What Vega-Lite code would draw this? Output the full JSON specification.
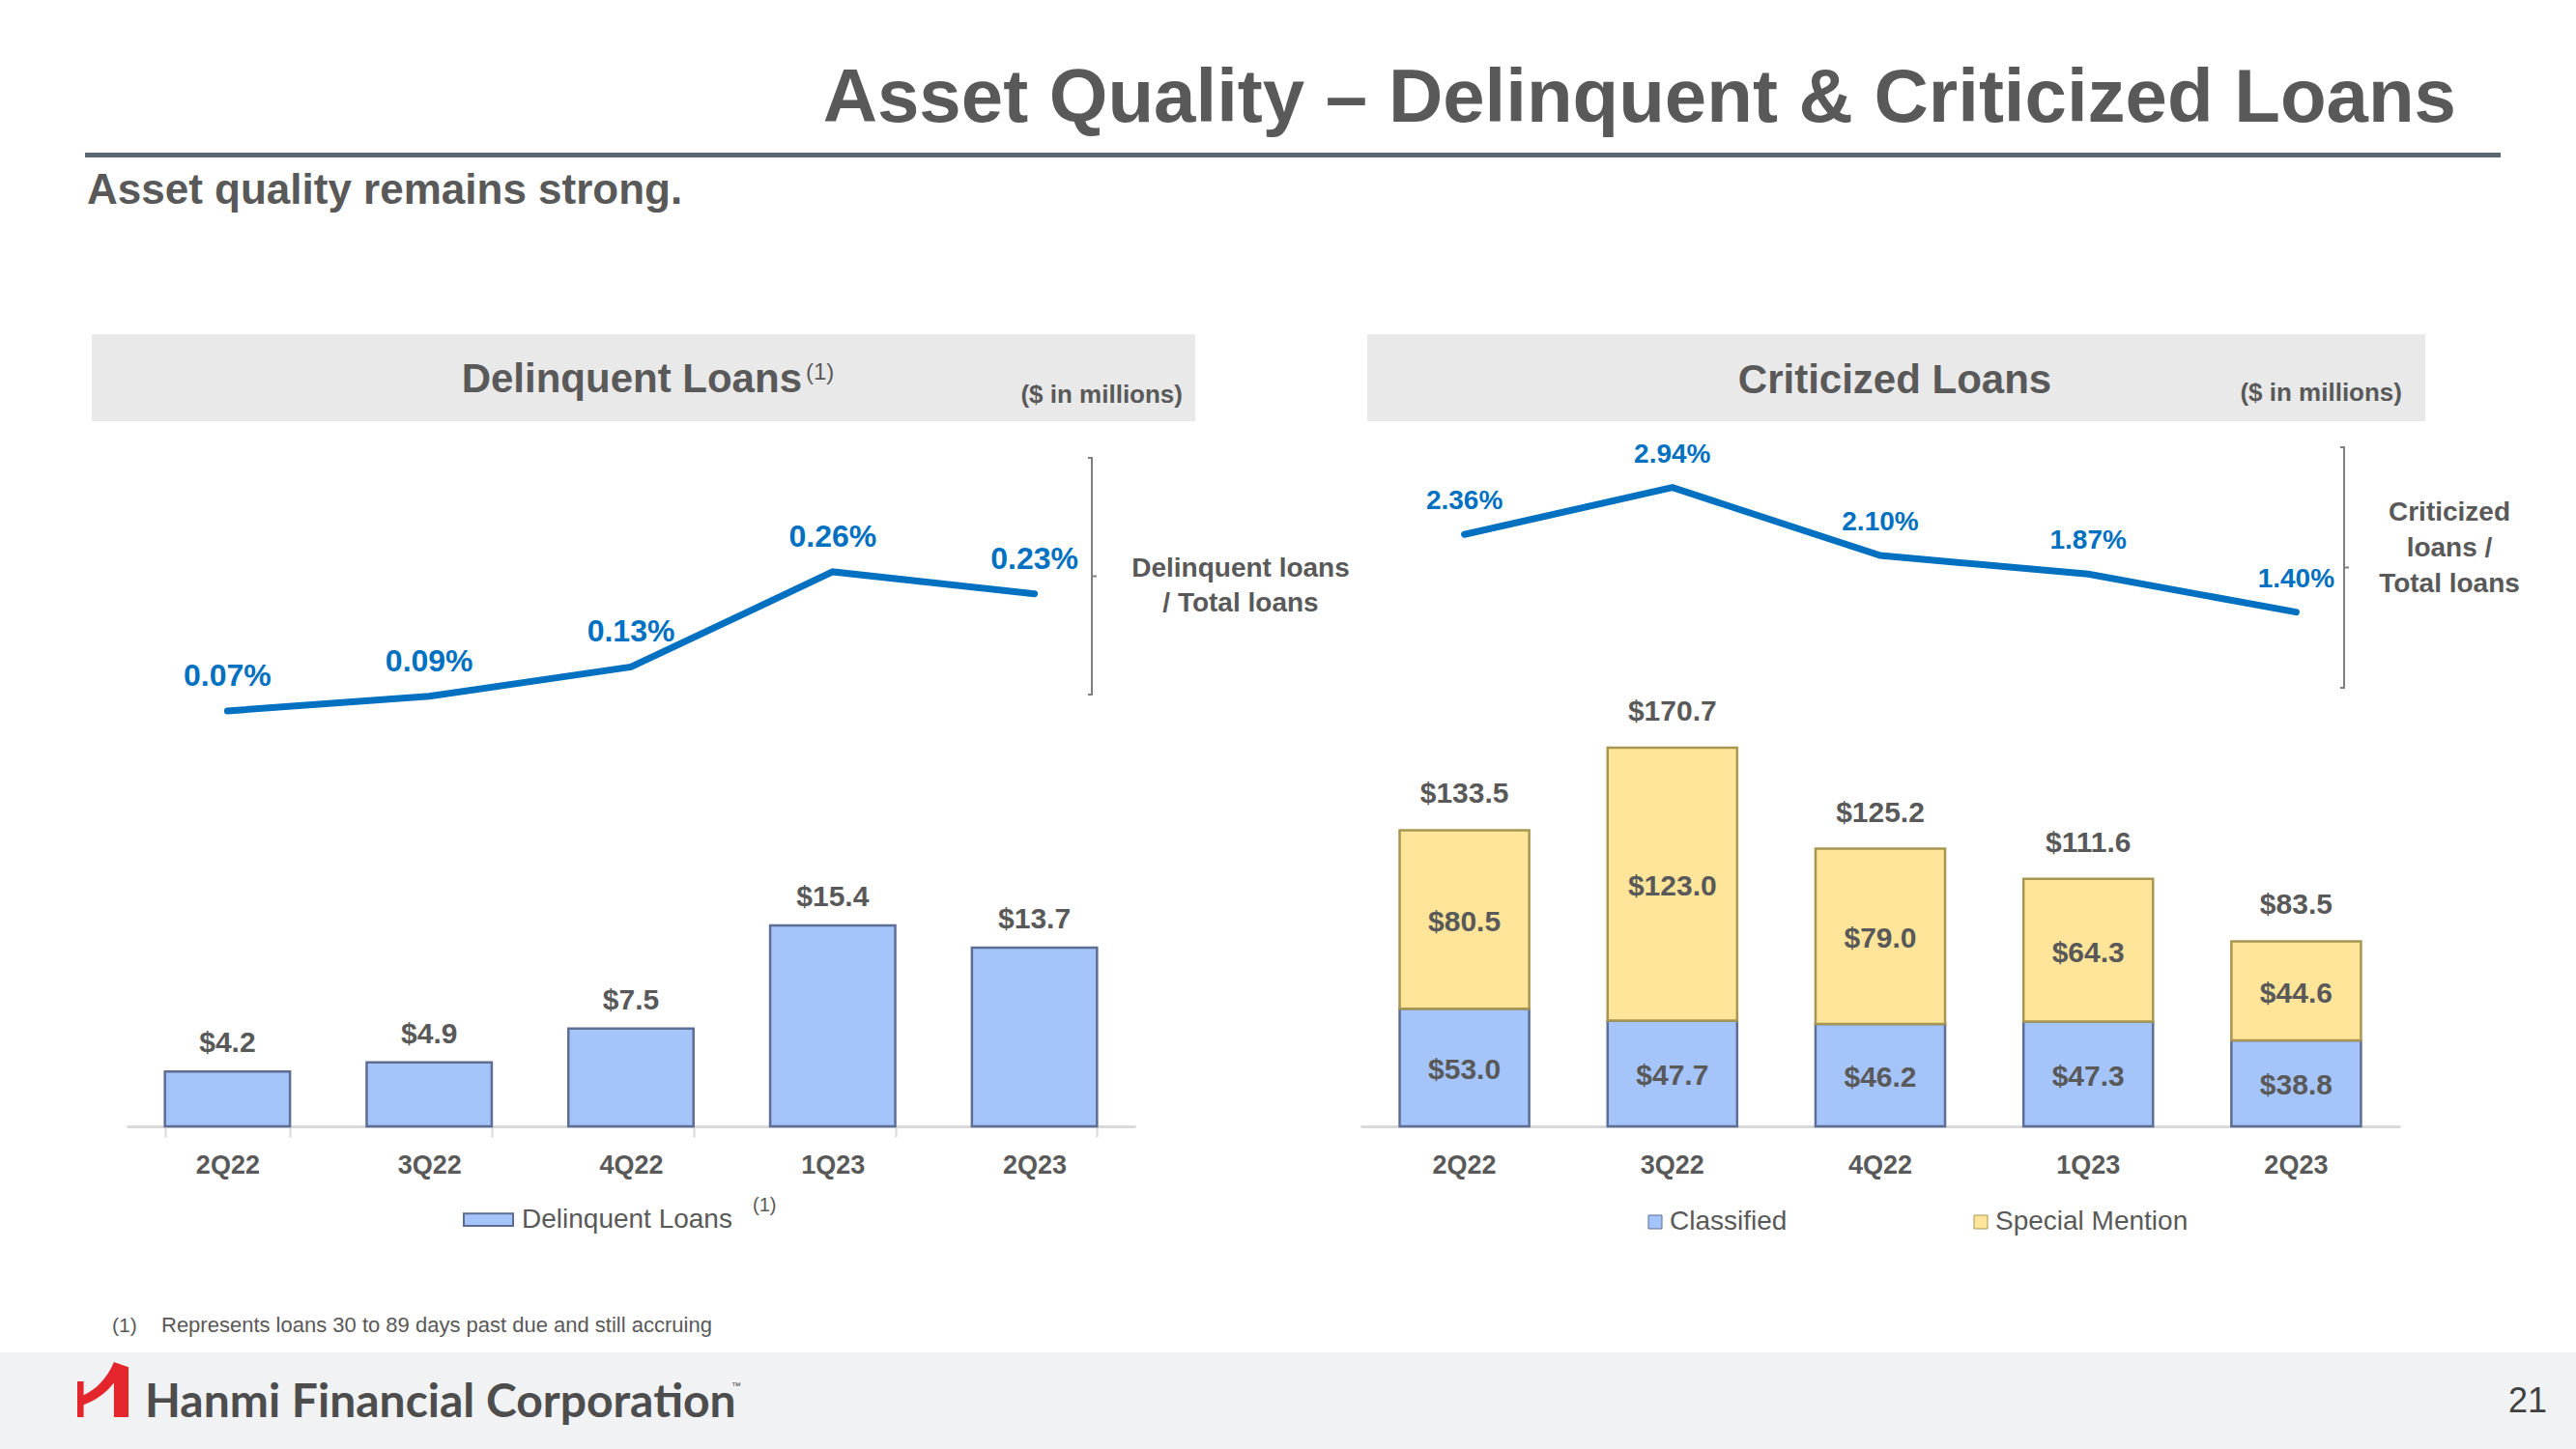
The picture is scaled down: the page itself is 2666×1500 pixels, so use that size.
{
  "$schema": "https://vega.github.io/schema/vega-lite/v6.json",
  "width": 2666,
  "height": 1500,
  "autosize": {"type": "none"},
  "padding": 0,
  "background": "#ffffff",
  "config": {"view": {"stroke": null}, "font": "Liberation Sans"},
  "datasets": {
    "delinquent": [
      {"q": "2Q22", "amount": 4.2, "pct": 0.0007},
      {"q": "3Q22", "amount": 4.9, "pct": 0.0009},
      {"q": "4Q22", "amount": 7.5, "pct": 0.0013},
      {"q": "1Q23", "amount": 15.4, "pct": 0.0026},
      {"q": "2Q23", "amount": 13.7, "pct": 0.0023}
    ],
    "criticized": [
      {"q": "2Q22", "type": "Classified", "v": 53.0},
      {"q": "2Q22", "type": "Special Mention", "v": 80.5},
      {"q": "3Q22", "type": "Classified", "v": 47.7},
      {"q": "3Q22", "type": "Special Mention", "v": 123.0},
      {"q": "4Q22", "type": "Classified", "v": 46.2},
      {"q": "4Q22", "type": "Special Mention", "v": 79.0},
      {"q": "1Q23", "type": "Classified", "v": 47.3},
      {"q": "1Q23", "type": "Special Mention", "v": 64.3},
      {"q": "2Q23", "type": "Classified", "v": 38.8},
      {"q": "2Q23", "type": "Special Mention", "v": 44.6}
    ],
    "critTotals": [
      {"q": "2Q22", "total": 133.5, "pct": 0.0236},
      {"q": "3Q22", "total": 170.7, "pct": 0.0294},
      {"q": "4Q22", "total": 125.2, "pct": 0.0210},
      {"q": "1Q23", "total": 111.6, "pct": 0.0187},
      {"q": "2Q23", "total": 83.5, "pct": 0.0140}
    ]
  },
  "layer": [
    {"data": {"values": [{}]}, "mark": {"type": "rect", "x": 0, "x2": 2666, "y": 1400, "y2": 1500, "color": "#f1f2f4"}},
    {"data": {"values": [{}]}, "mark": {"type": "rect", "x": 95, "x2": 1237, "y": 346, "y2": 436, "color": "#e9e9e9"}},
    {"data": {"values": [{}]}, "mark": {"type": "rect", "x": 1415, "x2": 2510, "y": 346, "y2": 436, "color": "#e9e9e9"}},
    {"data": {"values": [{}]}, "mark": {"type": "rect", "x": 88, "x2": 2588, "y": 158, "y2": 163, "color": "#5b6770"}},
    {"data": {"values": [{}]}, "mark": {"type": "text", "text": "Asset Quality – Delinquent & Criticized Loans", "x": 2542, "y": 126, "align": "right", "baseline": "alphabetic", "fontSize": 78, "fontWeight": "bold", "color": "#595959"}},
    {"data": {"values": [{}]}, "mark": {"type": "text", "text": "Asset quality remains strong.", "x": 90, "y": 211, "align": "left", "baseline": "alphabetic", "fontSize": 44, "fontWeight": "bold", "color": "#595959"}},
    {"data": {"values": [{}]}, "mark": {"type": "text", "text": "Delinquent Loans", "x": 830, "y": 406, "align": "right", "baseline": "alphabetic", "fontSize": 42, "fontWeight": "bold", "color": "#595959"}},
    {"data": {"values": [{}]}, "mark": {"type": "text", "text": "(1)", "x": 834, "y": 393, "align": "left", "baseline": "alphabetic", "fontSize": 24, "color": "#595959"}},
    {"data": {"values": [{}]}, "mark": {"type": "text", "text": "($ in millions)", "x": 1224, "y": 417, "align": "right", "baseline": "alphabetic", "fontSize": 26, "fontWeight": "bold", "color": "#595959"}},
    {"data": {"values": [{}]}, "mark": {"type": "text", "text": "Criticized Loans", "x": 1961, "y": 407, "align": "center", "baseline": "alphabetic", "fontSize": 42, "fontWeight": "bold", "color": "#595959"}},
    {"data": {"values": [{}]}, "mark": {"type": "text", "text": "($ in millions)", "x": 2486, "y": 415, "align": "right", "baseline": "alphabetic", "fontSize": 26, "fontWeight": "bold", "color": "#595959"}},
    {"data": {"values": [{}]}, "mark": {"type": "point", "shape": "M-0.033,-1L0,-1L0,1L-0.033,1M0,0L0.04,0", "x": 1130, "y": 596.5, "size": 60025, "filled": false, "color": "#7f7f7f", "strokeWidth": 2, "opacity": 1}},
    {"data": {"values": [{}]}, "mark": {"type": "point", "shape": "M-0.033,-1L0,-1L0,1L-0.033,1M0,0L0.04,0", "x": 2426, "y": 587.5, "size": 62001, "filled": false, "color": "#7f7f7f", "strokeWidth": 2, "opacity": 1}},
    {"data": {"values": [{}]}, "mark": {"type": "text", "text": ["Delinquent loans", "/ Total loans"], "x": 1284, "y": 597, "align": "center", "baseline": "alphabetic", "lineHeight": 36, "fontSize": 28, "fontWeight": "bold", "color": "#595959"}},
    {"data": {"values": [{}]}, "mark": {"type": "text", "text": ["Criticized", "loans /", "Total loans"], "x": 2535, "y": 539, "align": "center", "baseline": "alphabetic", "lineHeight": 37, "fontSize": 28, "fontWeight": "bold", "color": "#595959"}},
    {"data": {"values": [{}]}, "mark": {"type": "text", "text": "(1)", "x": 779, "y": 1254, "align": "left", "baseline": "alphabetic", "fontSize": 20, "color": "#595959"}},
    {"data": {"values": [{}]}, "mark": {"type": "text", "text": "(1)", "x": 116, "y": 1379, "align": "left", "baseline": "alphabetic", "fontSize": 21, "color": "#595959"}},
    {"data": {"values": [{}]}, "mark": {"type": "text", "text": "Represents loans 30 to 89 days past due and still accruing", "x": 167, "y": 1379, "align": "left", "baseline": "alphabetic", "fontSize": 22, "color": "#595959"}},
    {"data": {"values": [{}]}, "mark": {"type": "point", "shape": "M-0.93,-0.3L-0.7,-0.3L-0.7,1L-0.93,1Z M0.4,-1L0.93,-0.82L0.93,1L0.4,1Z M-0.7,0.2C-0.25,0 0.15,-0.4 0.4,-1L0.4,-0.25C0.1,0.15 -0.3,0.4 -0.7,0.55Z", "x": 106.5, "y": 1438.5, "size": 3249, "filled": true, "color": "#e4262c", "strokeWidth": 0, "opacity": 1}},
    {"data": {"values": [{}]}, "mark": {"type": "text", "text": "Hanmi Financial Corporation", "x": 150, "y": 1467, "align": "left", "baseline": "alphabetic", "font": "Lato", "fontSize": 48, "fontWeight": "bold", "color": "#4d4d4d"}},
    {"data": {"values": [{}]}, "mark": {"type": "text", "text": "™", "x": 757, "y": 1438, "align": "left", "baseline": "alphabetic", "fontSize": 10, "color": "#4a4a4a"}},
    {"data": {"values": [{}]}, "mark": {"type": "text", "text": "21", "x": 2616, "y": 1462, "align": "center", "baseline": "alphabetic", "fontSize": 36, "color": "#404040"}},

    {
      "data": {"name": "delinquent"},
      "mark": {"type": "bar", "stroke": "#5d6d93", "strokeWidth": 2.5},
      "encoding": {
        "x": {"field": "q", "type": "ordinal", "sort": null,
              "scale": {"type": "band", "domain": ["2Q22", "3Q22", "4Q22", "1Q23", "2Q23"], "range": [131, 1175], "paddingInner": 0.38, "paddingOuter": 0.19},
              "axis": {"orient": "bottom", "offset": -334, "title": null, "labelAngle": 0, "grid": false, "domainColor": "#d9d9d9", "domainWidth": 3, "ticks": true, "tickColor": "#d9d9d9", "tickWidth": 2, "tickSize": 11, "tickBand": "extent", "labelFontSize": 27, "labelFontWeight": "bold", "labelColor": "#595959", "labelPadding": 16}},
        "y": {"field": "amount", "type": "quantitative", "scale": {"domain": [0, 20], "range": [1166, 896], "nice": false}, "axis": null},
        "color": {"datum": "Delinquent Loans", "scale": {"range": ["#a4c4fa"]},
                  "legend": {"orient": "none", "legendX": 479, "legendY": 1236, "title": null, "symbolType": "M-1,-0.25L1,-0.25L1,0.25L-1,0.25Z", "symbolSize": 2601, "symbolStrokeColor": "#5d6d93", "symbolStrokeWidth": 2, "labelFontSize": 28, "labelColor": "#595959", "labelOffset": 8, "labelLimit": 600, "padding": 0}}
      }
    },
    {
      "data": {"name": "delinquent"},
      "mark": {"type": "text", "baseline": "alphabetic", "dy": -20, "fontSize": 30, "fontWeight": "bold", "color": "#595959"},
      "encoding": {
        "x": {"field": "q", "type": "ordinal", "sort": null, "scale": {"type": "band", "domain": ["2Q22", "3Q22", "4Q22", "1Q23", "2Q23"], "range": [131, 1175], "paddingInner": 0.38, "paddingOuter": 0.19}, "axis": null},
        "y": {"field": "amount", "type": "quantitative", "scale": {"domain": [0, 20], "range": [1166, 896], "nice": false}, "axis": null},
        "text": {"field": "amount", "type": "quantitative", "format": "$.1f"}
      }
    },
    {
      "data": {"name": "delinquent"},
      "mark": {"type": "line", "color": "#0070c0", "strokeWidth": 7, "strokeCap": "round"},
      "encoding": {
        "x": {"field": "q", "type": "ordinal", "sort": null, "scale": {"type": "band", "domain": ["2Q22", "3Q22", "4Q22", "1Q23", "2Q23"], "range": [131, 1175], "paddingInner": 0.38, "paddingOuter": 0.19}, "axis": null},
        "y": {"field": "pct", "type": "quantitative", "scale": {"domain": [0, 0.003], "range": [789, 561.6], "nice": false}, "axis": null}
      }
    },
    {
      "data": {"name": "delinquent"},
      "mark": {"type": "text", "baseline": "alphabetic", "dy": -26, "fontSize": 32, "fontWeight": "bold", "color": "#0070c0"},
      "encoding": {
        "x": {"field": "q", "type": "ordinal", "sort": null, "scale": {"type": "band", "domain": ["2Q22", "3Q22", "4Q22", "1Q23", "2Q23"], "range": [131, 1175], "paddingInner": 0.38, "paddingOuter": 0.19}, "axis": null},
        "y": {"field": "pct", "type": "quantitative", "scale": {"domain": [0, 0.003], "range": [789, 561.6], "nice": false}, "axis": null},
        "text": {"field": "pct", "type": "quantitative", "format": ".2%"}
      }
    },

    {
      "data": {"name": "criticized"},
      "transform": [{"stack": "v", "groupby": ["q"], "sort": [{"field": "type", "order": "ascending"}], "as": ["v0", "v1"]}],
      "mark": {"type": "bar", "strokeWidth": 2.5},
      "encoding": {
        "x": {"field": "q", "type": "ordinal", "sort": null,
              "scale": {"type": "band", "domain": ["2Q22", "3Q22", "4Q22", "1Q23", "2Q23"], "range": [1408, 2484], "paddingInner": 0.377, "paddingOuter": 0.1885},
              "axis": {"orient": "bottom", "offset": -334, "title": null, "labelAngle": 0, "grid": false, "domainColor": "#d9d9d9", "domainWidth": 3, "ticks": false, "labelFontSize": 27, "labelFontWeight": "bold", "labelColor": "#595959", "labelPadding": 27}},
        "y": {"field": "v1", "type": "quantitative", "scale": {"domain": [0, 200], "range": [1166, 706.8], "nice": false}, "axis": null},
        "y2": {"field": "v0"},
        "color": {"field": "type", "type": "nominal", "scale": {"domain": ["Classified", "Special Mention"], "range": ["#a4c4fa", "#ffe599"]},
                  "legend": {"orient": "none", "direction": "horizontal", "legendX": 1699, "legendY": 1251, "title": null, "symbolType": "square", "symbolSize": 196, "symbolStrokeWidth": 1, "labelFontSize": 28, "labelColor": "#595959", "labelOffset": 1, "labelLimit": 600, "columnPadding": 186, "padding": 0}},
        "stroke": {"field": "type", "type": "nominal", "scale": {"domain": ["Classified", "Special Mention"], "range": ["#5d6d93", "#a89650"]}, "legend": null}
      }
    },
    {
      "data": {"name": "criticized"},
      "transform": [
        {"stack": "v", "groupby": ["q"], "sort": [{"field": "type", "order": "ascending"}], "as": ["v0", "v1"]},
        {"fold": ["v0", "v1"], "as": ["edge", "pos"]},
        {"aggregate": [{"op": "mean", "field": "pos", "as": "mid"}], "groupby": ["q", "type", "v"]}
      ],
      "mark": {"type": "text", "baseline": "alphabetic", "dy": 12, "fontSize": 30, "fontWeight": "bold", "color": "#595959"},
      "encoding": {
        "x": {"field": "q", "type": "ordinal", "sort": null, "scale": {"type": "band", "domain": ["2Q22", "3Q22", "4Q22", "1Q23", "2Q23"], "range": [1408, 2484], "paddingInner": 0.377, "paddingOuter": 0.1885}, "axis": null},
        "y": {"field": "mid", "type": "quantitative", "scale": {"domain": [0, 200], "range": [1166, 706.8], "nice": false}, "axis": null},
        "text": {"field": "v", "type": "quantitative", "format": "$.1f"}
      }
    },
    {
      "data": {"name": "critTotals"},
      "mark": {"type": "text", "baseline": "alphabetic", "dy": -28, "fontSize": 30, "fontWeight": "bold", "color": "#595959"},
      "encoding": {
        "x": {"field": "q", "type": "ordinal", "sort": null, "scale": {"type": "band", "domain": ["2Q22", "3Q22", "4Q22", "1Q23", "2Q23"], "range": [1408, 2484], "paddingInner": 0.377, "paddingOuter": 0.1885}, "axis": null},
        "y": {"field": "total", "type": "quantitative", "scale": {"domain": [0, 200], "range": [1166, 706.8], "nice": false}, "axis": null},
        "text": {"field": "total", "type": "quantitative", "format": "$.1f"}
      }
    },
    {
      "data": {"name": "critTotals"},
      "mark": {"type": "line", "color": "#0070c0", "strokeWidth": 7, "strokeCap": "round"},
      "encoding": {
        "x": {"field": "q", "type": "ordinal", "sort": null, "scale": {"type": "band", "domain": ["2Q22", "3Q22", "4Q22", "1Q23", "2Q23"], "range": [1408, 2484], "paddingInner": 0.377, "paddingOuter": 0.1885}, "axis": null},
        "y": {"field": "pct", "type": "quantitative", "scale": {"domain": [0, 0.03], "range": [751, 499.6], "nice": false}, "axis": null}
      }
    },
    {
      "data": {"name": "critTotals"},
      "mark": {"type": "text", "baseline": "alphabetic", "dy": -26, "fontSize": 28, "fontWeight": "bold", "color": "#0070c0"},
      "encoding": {
        "x": {"field": "q", "type": "ordinal", "sort": null, "scale": {"type": "band", "domain": ["2Q22", "3Q22", "4Q22", "1Q23", "2Q23"], "range": [1408, 2484], "paddingInner": 0.377, "paddingOuter": 0.1885}, "axis": null},
        "y": {"field": "pct", "type": "quantitative", "scale": {"domain": [0, 0.03], "range": [751, 499.6], "nice": false}, "axis": null},
        "text": {"field": "pct", "type": "quantitative", "format": ".2%"}
      }
    }
  ],
  "resolve": {
    "scale": {"x": "independent", "y": "independent", "color": "independent", "stroke": "independent"},
    "axis": {"x": "independent", "y": "independent"},
    "legend": {"color": "independent", "stroke": "independent"}
  }
}
